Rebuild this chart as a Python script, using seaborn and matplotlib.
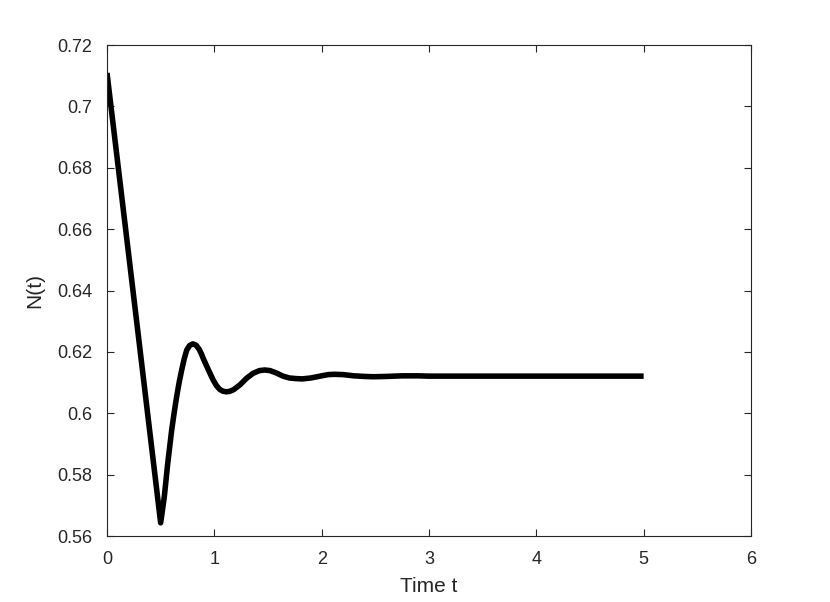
import matplotlib
matplotlib.use("Agg")
import matplotlib.pyplot as plt
import seaborn as sns
import pandas as pd

# values
time_t = [0.0, 0.1, 0.2, 0.3, 0.4, 0.5, 0.534, 0.566, 0.603, 0.626, 0.649, 0.672,
          0.696, 0.72, 0.743, 0.77, 0.80, 0.83, 0.86, 0.88, 0.90, 0.93, 0.96, 0.99,
          1.02, 1.05, 1.08, 1.11, 1.14, 1.18, 1.24, 1.30, 1.36, 1.42, 1.47, 1.52,
          1.58, 1.64, 1.70, 1.76, 1.82, 1.90, 2.00, 2.06, 2.12, 2.20, 2.30, 2.40,
          2.48, 2.60, 2.75, 2.90, 3.0, 3.5, 4.0, 4.5, 5.0]
n_t = [0.7109, 0.6816, 0.6523, 0.6230, 0.5936, 0.5643, 0.5728, 0.5837, 0.5946, 0.6002,
       0.6054, 0.6100, 0.6141, 0.6178, 0.6206, 0.6221, 0.6226, 0.6222, 0.6208, 0.6193,
       0.6176, 0.6153, 0.6130, 0.6108, 0.6090, 0.6078, 0.6072, 0.6070, 0.6071, 0.6077,
       0.6093, 0.6114, 0.6130, 0.6139, 0.6141, 0.6139, 0.6131, 0.6121, 0.6115, 0.6113,
       0.6112, 0.6115, 0.6122, 0.6126, 0.6127, 0.6126, 0.6122, 0.6120, 0.6119, 0.6120,
       0.6122, 0.6122, 0.6121, 0.6121, 0.6121, 0.6121, 0.6121]
x_ticks = [0, 1, 2, 3, 4, 5, 6]
y_ticks = [0.56, 0.58, 0.6, 0.62, 0.64, 0.66, 0.68, 0.7, 0.72]
y_tick_labels = ["0.56", "0.58", "0.6", "0.62", "0.64", "0.66", "0.68", "0.7", "0.72"]

df = pd.DataFrame({"t": time_t, "N": n_t})

sns.set_theme(style="ticks")
plt.rcParams["font.family"] = ["Liberation Sans", "DejaVu Sans"]
plt.rcParams["axes.edgecolor"] = "#262626"
plt.rcParams["axes.linewidth"] = 0.8

fig = plt.figure(figsize=(8.3, 6.02), dpi=100)
ax = fig.add_axes([0.1289, 0.1096, 0.7759, 0.8156])

sns.lineplot(data=df, x="t", y="N", sort=False, color="black", linewidth=4.0, ax=ax)
ax.lines[0].set_solid_joinstyle("round")
ax.lines[0].set_solid_capstyle("butt")

ax.set_xlim(0, 6)
ax.set_ylim(0.56, 0.72)
ax.set_xticks(x_ticks)
ax.set_xticklabels([str(v) for v in x_ticks])
ax.set_yticks(y_ticks)
ax.set_yticklabels(y_tick_labels)
ax.tick_params(direction="in", length=5, width=0.8, color="#262626",
               top=True, right=True, labelsize=13, labelcolor="#262626", pad=10.5)
ax.set_xlabel("Time t", fontsize=15, color="#262626", labelpad=6.5)
ax.set_ylabel("N(t)", fontsize=15, color="#262626", labelpad=9.5)
for s in ax.spines.values():
    s.set_visible(True)

fig.savefig("out.png", dpi=100)
